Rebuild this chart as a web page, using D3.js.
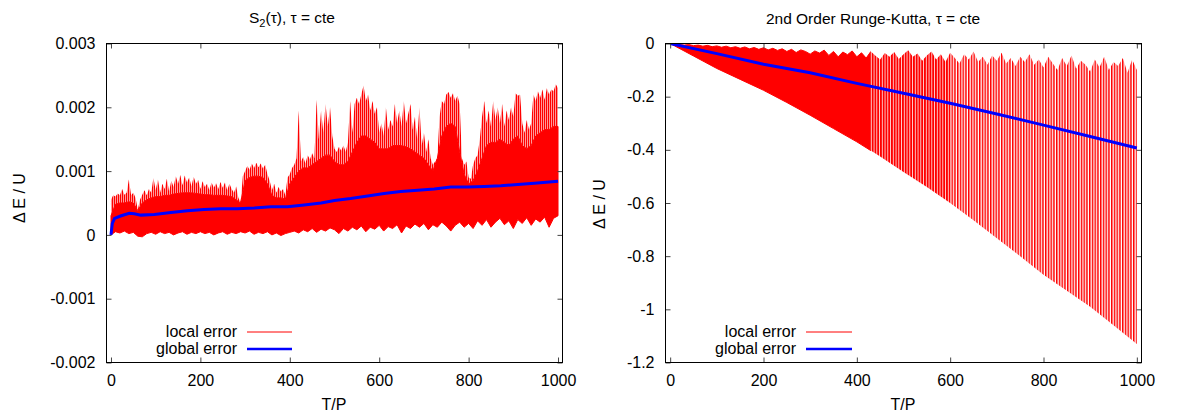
<!DOCTYPE html>
<html>
<head>
<meta charset="utf-8">
<script src="https://cdn.jsdelivr.net/npm/d3@7"></script>
<style>
  body { margin: 0; background: #fff; }
  svg { display: block; font-family: "Liberation Sans", Arial, Helvetica, sans-serif; }
</style>
</head>
<body>
<svg id="chart" width="1179" height="414"></svg>
<script>
// ---- data ----
const timeTicks = [0, 200, 400, 600, 800, 1000]
const s2YTicks = [-0.002, -0.001, 0, 0.001, 0.002, 0.003]
const rkYTicks = [-1.2, -1, -0.8, -0.6, -0.4, -0.2, 0]

// S2(tau): tips of the local error spikes, every 5 T/P, in units of 1e-3
const s2HiStep = 5
const s2LocalHi = [
  0.55, 0.62, 0.60, 0.65, 0.62, 0.72, 0.63, 0.66, 0.87, 0.62,
  0.66, 0.58, 0.40, 0.55, 0.63, 0.70, 0.62, 0.72, 0.66, 0.89,
  0.70, 0.87, 0.66, 0.80, 0.72, 0.88, 0.68, 0.85, 0.75, 0.92,
  0.80, 0.94, 0.78, 0.93, 0.82, 0.90, 0.76, 0.91, 0.80, 0.86,
  0.72, 0.84, 0.75, 0.80, 0.70, 0.82, 0.74, 0.81, 0.72, 0.83,
  0.74, 0.82, 0.70, 0.80, 0.72, 0.66, 0.76, 0.58, 0.52, 0.92,
  1.00, 1.08, 1.02, 1.12, 1.05, 1.13, 1.06, 1.12, 1.04, 1.10,
  0.95, 0.85, 0.70, 0.80, 0.66, 0.75, 0.68, 0.72, 0.62, 0.90,
  0.95, 1.05, 1.10, 1.20, 1.95, 1.15, 1.22, 1.12, 1.25, 1.18,
  1.28, 1.20, 2.12, 1.50, 1.95, 1.60, 2.05, 1.70, 2.00, 1.55,
  1.35, 1.30, 1.38, 1.32, 1.40, 1.30, 1.45, 2.10, 1.60, 2.05,
  2.15, 2.05, 2.20, 2.34, 2.10, 2.20, 1.95, 2.10, 1.90, 2.00,
  1.60, 1.75, 1.55, 2.00, 1.65, 1.80, 1.70, 2.05, 1.75, 1.95,
  1.70, 2.10, 1.75, 1.90, 2.05, 1.65, 1.85, 1.50, 2.00, 1.40,
  1.60, 1.30, 1.50, 1.20, 1.10, 1.15, 1.20, 1.85, 2.10, 2.05,
  2.20, 2.24, 2.15, 2.22, 2.10, 2.18, 2.05, 1.20, 1.10, 1.15,
  0.90, 0.88, 1.10, 1.20, 1.25, 1.50, 1.85, 2.10, 1.75, 1.95,
  1.70, 2.10, 1.80, 2.00, 1.75, 2.05, 1.70, 1.95, 1.80, 2.00,
  1.85, 2.22, 2.18, 2.20, 1.75, 1.60, 1.80, 1.65, 1.75, 2.20,
  2.10, 2.25, 2.15, 2.28, 2.12, 2.30, 2.20, 2.28, 2.25, 2.36,
  2.30
]
// level up to which the band is solid, every 10 T/P, units of 1e-3
const s2CoreStep = 10
const s2LocalCore = [
  0.30, 0.48, 0.50, 0.50, 0.52, 0.50, 0.38, 0.50, 0.55, 0.58,
  0.60, 0.60, 0.62, 0.62, 0.64, 0.65, 0.66, 0.66, 0.66, 0.65,
  0.64, 0.63, 0.63, 0.62, 0.62, 0.62, 0.61, 0.60, 0.55, 0.50,
  0.85, 0.90, 0.92, 0.92, 0.90, 0.80, 0.62, 0.58, 0.58, 0.56,
  0.80, 0.90, 1.00, 1.05, 1.05, 1.10, 1.15, 1.20, 1.25, 1.25,
  1.15, 1.10, 1.10, 1.15, 1.30, 1.45, 1.55, 1.55, 1.50, 1.45,
  1.35, 1.35, 1.35, 1.40, 1.40, 1.40, 1.38, 1.35, 1.30, 1.25,
  1.20, 1.10, 1.00, 1.20, 1.55, 1.70, 1.75, 1.70, 1.30, 0.95,
  0.80, 0.85, 1.00, 1.20, 1.40, 1.45, 1.45, 1.50, 1.45, 1.40,
  1.50, 1.55, 1.40, 1.35, 1.40, 1.55, 1.60, 1.65, 1.65, 1.70,
  1.70
]
// lower edge of the band, every 10 T/P, units of 1e-3
const s2LoStep = 10
const s2LocalLo = [
  0.00, 0.05, 0.03, 0.06, 0.02, 0.04, -0.02, -0.03, 0.02, 0.04,
  0.01, 0.05, 0.02, 0.04, 0.00, 0.03, 0.05, 0.01, 0.04, 0.02,
  0.05, 0.02, 0.04, 0.00, 0.03, 0.05, 0.01, 0.04, 0.02, 0.05,
  0.03, 0.06, 0.01, 0.04, 0.02, 0.05, 0.00, 0.03, -0.01, 0.02,
  0.04, 0.06, 0.03, 0.08, 0.05, 0.10, 0.04, 0.09, 0.06, 0.11,
  0.08, 0.02, 0.10, 0.06, 0.12, 0.08, 0.14, 0.05, 0.12, 0.09,
  0.15, 0.06, 0.13, 0.10, 0.16, 0.03, 0.14, 0.10, 0.17, 0.12,
  0.18, 0.08, 0.16, 0.12, 0.20, 0.14, 0.06, 0.15, 0.20, 0.12,
  0.18, 0.10, 0.22, 0.15, 0.24, 0.12, 0.20, 0.26, 0.16, 0.22,
  0.10, 0.24, 0.18, 0.27, 0.15, 0.25, 0.20, 0.28, 0.12, 0.26,
  0.30
]
// global error, units of 1e-3
const s2GlobalT = [0, 3, 8, 23, 41, 52, 67, 97, 134, 171, 208, 246, 283, 320, 358, 395,
  432, 470, 500, 536, 574, 611, 648, 686, 723, 760, 798, 835, 872, 910, 947, 1000]
const s2Global = [0, 0.18, 0.26, 0.30, 0.34, 0.33, 0.31, 0.32, 0.35, 0.38, 0.40, 0.41, 0.41, 0.42, 0.44, 0.44,
  0.47, 0.50, 0.54, 0.57, 0.61, 0.65, 0.68, 0.70, 0.72, 0.75, 0.75, 0.76, 0.77, 0.79, 0.81, 0.84]

// Runge-Kutta: top ends of the local error strokes, every 10 T/P
const rkTopStep = 10
const rkLocalTop = [
  0, -0.003, -0.004, -0.006, -0.004, -0.008, -0.006, -0.010, -0.007, -0.012,
  -0.009, -0.014, -0.010, -0.016, -0.012, -0.018, -0.013, -0.020, -0.015, -0.022,
  -0.016, -0.024, -0.018, -0.026, -0.020, -0.030, -0.022, -0.034, -0.024, -0.030,
  -0.040, -0.028, -0.036, -0.025, -0.045, -0.030, -0.050, -0.032, -0.042, -0.028,
  -0.050, -0.035, -0.055, -0.030, -0.046, -0.060, -0.036, -0.050, -0.032, -0.058,
  -0.040, -0.025, -0.050, -0.038, -0.065, -0.045, -0.030, -0.060, -0.040, -0.070,
  -0.035, -0.055, -0.075, -0.040, -0.060, -0.030, -0.070, -0.050, -0.080, -0.045,
  -0.065, -0.035, -0.075, -0.055, -0.085, -0.050, -0.070, -0.040, -0.080, -0.060,
  -0.090, -0.050, -0.075, -0.100, -0.055, -0.085, -0.045, -0.095, -0.065, -0.080,
  -0.105, -0.060, -0.090, -0.050, -0.100, -0.070, -0.085, -0.055, -0.110, -0.060,
  -0.100
]
// bottom ends of those strokes, every 50 T/P
const rkBottomStep = 50
const rkLocalBottom = [0, -0.047, -0.094, -0.135, -0.176, -0.222, -0.27, -0.32, -0.37, -0.425,
  -0.483, -0.54, -0.60, -0.665, -0.733, -0.80, -0.87, -0.93, -0.99, -1.06, -1.13]
const rkGlobalStep = 100
const rkGlobal = [0, -0.038, -0.078, -0.11, -0.15, -0.187, -0.225, -0.265, -0.307, -0.35, -0.393]
// where the strokes stop merging into a solid band, then where they thin out
const rkSolidUntil = 430
const rkDenseUntil = 600

const legendLabels = ["local error", "global error"]

// ---- drawing ----
const svg = d3.select("#chart")
const defs = svg.append("defs")
const FONT = 16

function clipRect(id, x0, x1, y0, y1) {
    defs.append("clipPath").attr("id", id)
        .append("rect")
        .attr("x", x0).attr("y", y1)
        .attr("width", x1 - x0).attr("height", y0 - y1)
    return `url(#${id})`
}

function stripes(id, period, barWidth) {
    defs.append("pattern")
        .attr("id", id)
        .attr("patternUnits", "userSpaceOnUse")
        .attr("width", period).attr("height", 10)
        .append("rect")
        .attr("width", barWidth).attr("height", 10)
        .attr("fill", "#ff0000")
    return `url(#${id})`
}

function drawAxes(xs, ys, yTicks, digits) {
    const [x0, x1] = xs.range()
    const [y0, y1] = ys.range()
    const fmtY = d => String(+d.toFixed(digits))

    let g = svg.append("g").style("font-size", FONT + "px")
    let bottom = g.append("g").attr("transform", `translate(0,${y0})`)
        .call(d3.axisBottom(xs).tickValues(timeTicks).tickSize(-5).tickPadding(12).tickFormat(d => String(d)))
    let top = g.append("g").attr("transform", `translate(0,${y1})`)
        .call(d3.axisTop(xs).tickValues(timeTicks).tickSize(-5).tickFormat(""))
    let left = g.append("g").attr("transform", `translate(${x0},0)`)
        .call(d3.axisLeft(ys).tickValues(yTicks).tickSize(-5).tickPadding(11).tickFormat(fmtY))
    let right = g.append("g").attr("transform", `translate(${x1},0)`)
        .call(d3.axisRight(ys).tickValues(yTicks).tickSize(-5).tickFormat(""))
    ;[bottom, top, left, right].forEach(a => {
        a.select(".domain").remove()
        a.selectAll("line").attr("stroke", "#444")
        a.selectAll("text").attr("fill", "#000").style("font-family", "inherit").style("font-size", FONT + "px")
    })

    g.append("rect")
        .attr("x", x0).attr("y", y1)
        .attr("width", x1 - x0).attr("height", y0 - y1)
        .attr("fill", "none")
        .attr("stroke", "#000")
        .attr("stroke-width", 1)
}

function drawLabels(title, titleX, yLabelX, yLabelY, xLabelX) {
    if (typeof title === "string") {
        svg.append("text").attr("x", titleX).attr("y", 24)
            .attr("text-anchor", "middle").style("font-size", "15.5px").text(title)
    } else {
        let t = svg.append("text").attr("x", titleX).attr("y", 23)
            .attr("text-anchor", "middle").style("font-size", "15.5px")
        t.append("tspan").text(title[0])
        t.append("tspan").text(title[1]).attr("dy", 4).style("font-size", "11px")
        t.append("tspan").text(title[2]).attr("dy", -4)
    }
    svg.append("text")
        .attr("transform", `translate(${yLabelX},${yLabelY}) rotate(-90)`)
        .attr("text-anchor", "middle")
        .style("font-size", FONT + "px")
        .text("Δ E / U")
    svg.append("text")
        .attr("x", xLabelX).attr("y", 410)
        .attr("text-anchor", "middle")
        .style("font-size", FONT + "px")
        .text("T/P")
}

function drawLegend(textRight, lineX0, lineX1) {
    const rows = [
        { label: legendLabels[0], color: "#ff0000", width: 1, y: 332, base: 337 },
        { label: legendLabels[1], color: "#0000ff", width: 2.5, y: 349, base: 354 }
    ]
    rows.forEach(r => {
        svg.append("text")
            .attr("x", textRight).attr("y", r.base)
            .attr("text-anchor", "end")
            .style("font-size", FONT + "px")
            .text(r.label)
        svg.append("line")
            .attr("x1", lineX0).attr("x2", lineX1)
            .attr("y1", r.y).attr("y2", r.y)
            .attr("stroke", r.color)
            .attr("stroke-width", r.width)
    })
}

// ---------- left panel: S2(tau) ----------
{
    let xs = d3.scaleLinear().domain([-10, 1010]).range([106.5, 562.5])
    let ys = d3.scaleLinear().domain([-0.002, 0.003]).range([362.5, 43.5])
    let clip = clipRect("clipS2", 106.5, 562.5, 362.5, 43.5)
    let line = d3.line().x(d => xs(d[0])).y(d => ys(d[1]))

    let hi = s2LocalHi.map((v, i) => [i * s2HiStep, v * 1e-3])
    let core = s2LocalCore.map((v, i) => [i * s2CoreStep, v * 1e-3])
    let lo = s2LocalLo.map((v, i) => [i * s2LoStep, v * 1e-3])
    let g = svg.append("g").attr("clip-path", clip)
    // thin spikes above the solid part
    g.append("path")
        .attr("d", line(hi.concat(core.slice().reverse())) + "Z")
        .attr("fill", stripes("s2Spikes", 2.0, 1.4))
    g.append("path")
        .attr("d", line(core.concat(lo.slice().reverse())) + "Z")
        .attr("fill", "#ff0000")
        .attr("stroke", "#ff0000")
        .attr("stroke-width", 1)

    g.append("path")
        .attr("d", line(s2GlobalT.map((t, i) => [t, s2Global[i] * 1e-3])))
        .attr("fill", "none")
        .attr("stroke", "#0000ff")
        .attr("stroke-width", 3)

    drawAxes(xs, ys, s2YTicks, 3)
    drawLabels(["S", "2", "(τ), τ = cte"], 292, 25, 198, 334)
    drawLegend(237, 247, 292)
}

// ---------- right panel: 2nd order Runge-Kutta ----------
{
    let xs = d3.scaleLinear().domain([-10, 1010]).range([665.5, 1141.5])
    let ys = d3.scaleLinear().domain([-1.2, 0]).range([362.5, 43.5])
    let clip = clipRect("clipRK", 665.5, 1141.5, 362.5, 43.5)
    let line = d3.line().x(d => xs(d[0])).y(d => ys(d[1]))

    let top = rkLocalTop.map((v, i) => [i * rkTopStep, v])
    let bottom = rkLocalBottom.map((v, i) => [i * rkBottomStep, v]).reverse()
    let band = line(top.concat(bottom)) + "Z"

    const parts = [
        { from: -10, to: rkSolidUntil, fill: "#ff0000" },
        { from: rkSolidUntil, to: rkDenseUntil, fill: stripes("rkDense", 2.75, 2.0) },
        { from: rkDenseUntil, to: 1010, fill: stripes("rkSparse", 2.75, 1.5) }
    ]
    let g = svg.append("g").attr("clip-path", clip)
    parts.forEach((p, i) => {
        let c = clipRect("clipRK" + i, xs(p.from), xs(p.to), 362.5, 43.5)
        let path = g.append("g").attr("clip-path", c)
            .append("path").attr("d", band)
            .attr("fill", p.fill)
        if (i === 0) path.attr("stroke", "#ff0000").attr("stroke-width", 1)
    })

    g.append("path")
        .attr("d", line(rkGlobal.map((v, i) => [i * rkGlobalStep, v])))
        .attr("fill", "none")
        .attr("stroke", "#0000ff")
        .attr("stroke-width", 3)

    drawAxes(xs, ys, rkYTicks, 1)
    drawLabels("2nd Order Runge-Kutta, τ = cte", 873, 605, 204, 903)
    drawLegend(796, 806, 852)
}
</script>
</body>
</html>
